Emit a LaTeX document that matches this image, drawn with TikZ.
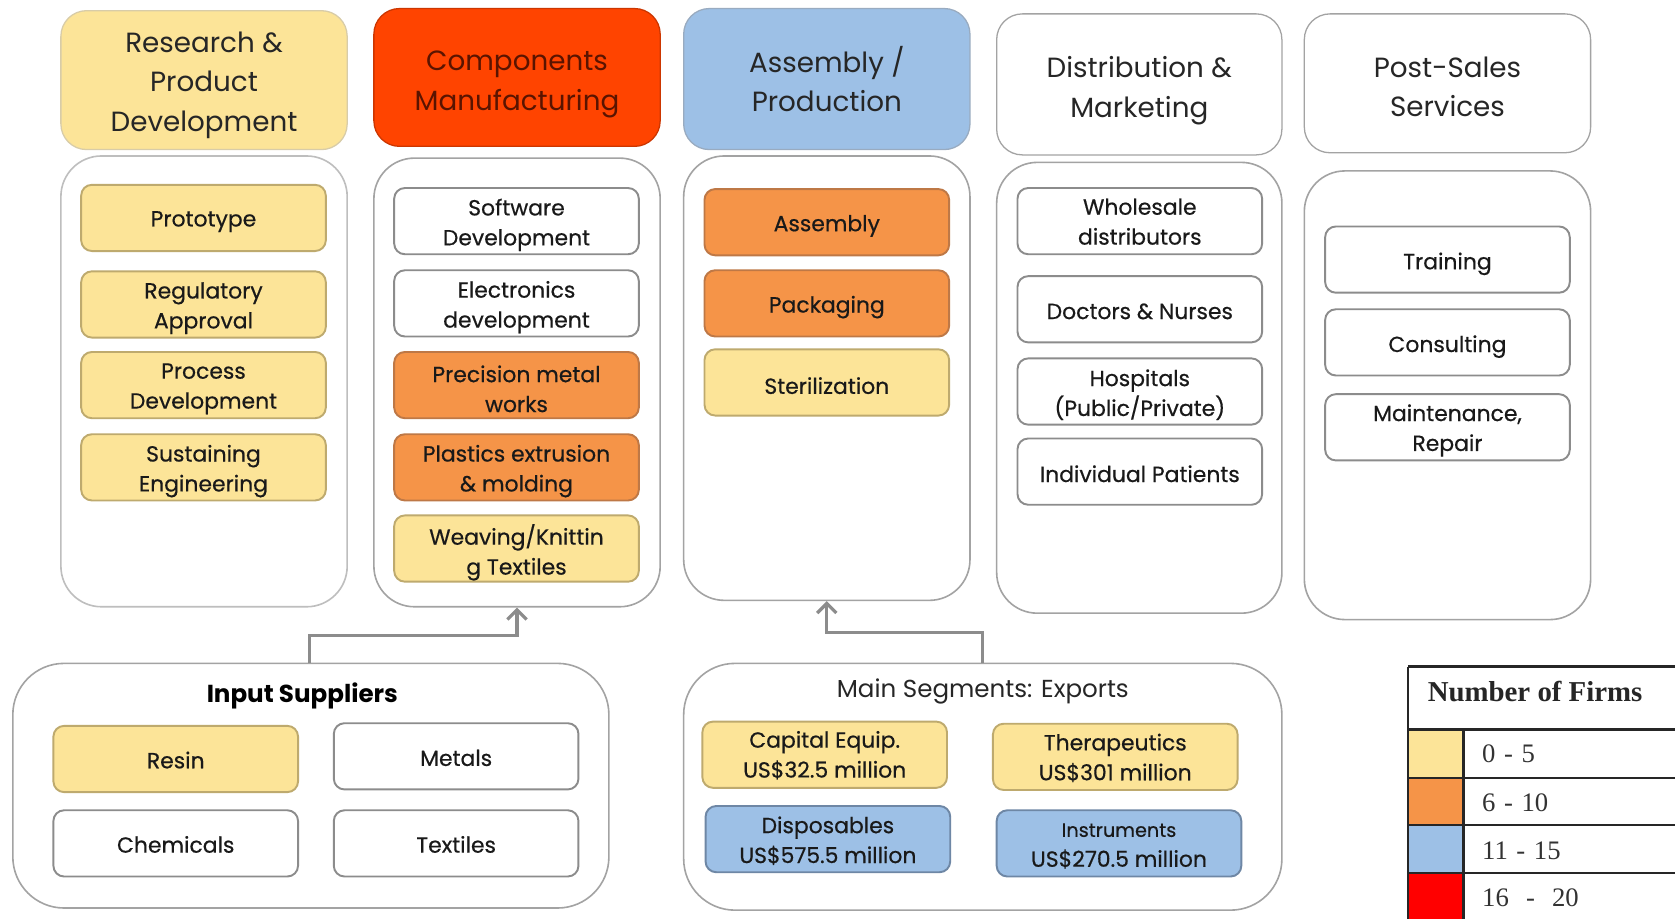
\documentclass[tikz,border=0pt]{standalone}
\usepackage{fontspec}
\setmainfont{Poppins}
\newfontfamily\itemfont{Poppins}[FakeBold=0.5]
\newfontfamily\legfont{Liberation Serif}
\usetikzlibrary{arrows.meta,calc}
\definecolor{cyel}{RGB}{252,228,152}
\definecolor{cyelb}{RGB}{190,170,110}
\definecolor{corg}{RGB}{245,148,72}
\definecolor{corgb}{RGB}{190,120,70}
\definecolor{cred}{RGB}{255,68,0}
\definecolor{cblue}{RGB}{157,192,230}
\definecolor{cblueb}{RGB}{110,135,165}
\definecolor{cgrayb}{RGB}{140,140,140}
\definecolor{clight}{RGB}{190,190,190}
\definecolor{ctxtred}{RGB}{90,20,0}
\tikzset{
  hdr/.style={draw=clight, line width=1.2pt, rounded corners=24pt, minimum width=268pt, minimum height=130pt},
  hdrtext/.style={align=center, font=\fontsize{26}{37}\selectfont, text=black!85, inner sep=0pt},
  colbox/.style={draw=cgrayb!80, line width=1.5pt, rounded corners=38pt, fill=white, minimum width=268pt},
  item/.style={draw=cgrayb, line width=1.8pt, rounded corners=10pt, fill=white, minimum width=229pt, minimum height=62pt},
  itext/.style={align=center, font=\itemfont\fontsize{20.5}{28}\selectfont, text=black!90, inner sep=0pt},
  yel/.style={fill=cyel, draw=cyelb},
  org/.style={fill=corg, draw=corgb},
  blu/.style={fill=cblue, draw=cblueb},
  bigbox/.style={draw=cgrayb!80, line width=1.5pt, rounded corners=48pt, fill=white},
  conn/.style={draw=cgrayb, line width=3pt, -{Straight Barb[length=9pt,width=18pt,line width=3pt]}},
  legline/.style={line width=2.2pt, draw=black!85},
  leglab/.style={anchor=west, font=\legfont\fontsize{25}{28}\selectfont, text=black!80},
}
% box with its text: style, name, centre, text shift, text
\newcommand\ibox[5]{\node[item,#1] (#2) at (#3) {};
  \node[itext] (#2t) at ($(#2)+(0,#4)$) {#5};}
\newcommand\lgap{\hspace{8pt}}
\begin{document}
\begin{tikzpicture}[x=1pt,y=-1pt]
\useasboundingbox (0,0) rectangle (1568,860);
\fill[white] (0,0) rectangle (1568,860);
% headers
\node[hdr, fill=cyel, draw=cyelb!60] (h1) at (191,75) {};
\node[hdrtext] (h1t) at ($(h1)+(0,4.5)$) {Research \&\\Product\\Development};
\node[hdr, fill=cred, draw=cred!80!black, minimum height=129pt] (h2) at (484,72.5) {};
\node[hdrtext, text=ctxtred] (h2t) at ($(h2)+(0,6.5)$) {Components\\Manufacturing};
\node[hdr, fill=cblue, draw=cblueb!70, minimum height=132pt] (h3) at (774,74) {};
\node[hdrtext] (h3t) at ($(h3)+(0,0)$) {Assembly /\\Production};
\node[hdr, fill=white, draw=cgrayb!80, minimum width=267pt, minimum height=132pt] (h4) at (1066.5,79) {};
\node[hdrtext] (h4t) at ($(h4)+(0,6)$) {Distribution \&\\Marketing};
\node[hdr, fill=white, draw=cgrayb!80] (h5) at (1355,78) {};
\node[hdrtext] (h5t) at ($(h5)+(0,3.5)$) {Post-Sales\\Services};
% columns
\node[colbox, minimum height=422pt, draw=clight] (c1) at (191,357) {};
\node[colbox, minimum height=420pt] (c2) at (484,358) {};
\node[colbox, minimum height=416pt] (c3) at (774,354) {};
\node[colbox, minimum width=267pt, minimum height=422pt] (c4) at (1066.5,363) {};
\node[colbox, minimum height=420pt] (c5) at (1355,370) {};
% column 1
\ibox{yel}{p1}{190.5,204}{3.5}{Prototype}
\ibox{yel}{p2}{190.5,285}{3.5}{Regulatory\\Approval}
\ibox{yel}{p3}{190.5,360.5}{3.5}{Process\\Development}
\ibox{yel}{p4}{190.5,437.5}{3.5}{Sustaining\\Engineering}
% column 2
\ibox{}{m1}{483.5,207}{3.5}{Software\\Development}
\ibox{}{m2}{483.5,284}{3.5}{Electronics\\development}
\ibox{org}{m3}{483.5,360.5}{3.5}{Precision metal\\works}
\ibox{org}{m4}{483.5,437.5}{3.5}{Plastics extrusion\\\& molding}
\ibox{yel}{m5}{483.5,513.5}{3.5}{Weaving/Knittin\\g Textiles}
% column 3
\ibox{org}{a1}{774,208}{3.5}{Assembly}
\ibox{org}{a2}{774,284}{3.5}{Packaging}
\ibox{yel}{a3}{774,358}{3}{Sterilization}
% column 4
\ibox{}{d1}{1067,207}{0.5}{Wholesale\\distributors}
\ibox{}{d2}{1067,289.5}{2}{Doctors \& Nurses}
\ibox{}{d3}{1067,366.5}{3}{Hospitals\\(Public/Private)}
\ibox{}{d4}{1067,441.5}{2}{Individual Patients}
% column 5
\ibox{}{s1}{1355,243}{4}{Training}
\ibox{}{s2}{1355,320.5}{4}{Consulting}
\ibox{}{s3}{1355,400}{3}{Maintenance,\\Repair}
% bottom left
\node[bigbox, minimum width=558pt, minimum height=229pt] (is) at (291,735.5) {};
\node[font=\fontsize{23}{26}\selectfont\bfseries] (ist) at (283,651) {Input Suppliers};
\ibox{yel}{i1}{164.5,710.5}{1}{Resin}
\ibox{}{i2}{427,708}{1.5}{Metals}
\ibox{}{i3}{164.5,789.5}{1}{Chemicals}
\ibox{}{i4}{427,789.5}{1}{Textiles}
% bottom middle
\node[bigbox, minimum width=560pt, minimum height=231pt] (ms) at (920,736.5) {};
\node[font=\fontsize{23}{26}\selectfont, text=black!85] (mst) at (920,647) {Main Segments: Exports};
\ibox{yel}{e1}{772,706.5}{0.5}{Capital Equip.\\US\$32.5 million}
\ibox{yel}{e2}{1044,708.5}{1}{Therapeutics\\US\$301 million}
\ibox{blu}{e3}{775,785.5}{1.5}{Disposables\\US\$575.5 million}
\ibox{blu}{e4}{1047.5,789.5}{2.5}{\fontsize{18}{26}\selectfont Instruments\\US\$270.5 million}
% connectors
\coordinate (isTop) at (290,621);
\coordinate (msTop) at (920,621);
\draw[conn] (isTop) -- ++(0,-26) -| (c2.south);
\draw[conn] (msTop) -- ++(0,-29) -| (c3.south);
% legend
\node[anchor=west, font=\legfont\bfseries\fontsize{27}{30}\selectfont, text=black!85] (lt) at (1333,647) {Number of Firms};
\node[draw=none, fill=cyel, minimum width=52pt, minimum height=45pt, anchor=north west, inner sep=0pt] (l1) at (1318,683) {};
\node[draw=none, fill=corg, minimum width=52pt, minimum height=44pt, anchor=north west, inner sep=0pt] (l2) at (1318,728) {};
\node[draw=none, fill=cblue, minimum width=52pt, minimum height=45pt, anchor=north west, inner sep=0pt] (l3) at (1318,772) {};
\node[draw=none, fill=red, minimum width=52pt, minimum height=43pt, anchor=north west, inner sep=0pt] (l4) at (1318,817) {};
\node[leglab] (t1) at (1384,706) {0\lgap-\lgap5};
\node[leglab] (t2) at (1384,751) {6\lgap-\lgap10};
\node[leglab] (t3) at (1384,796) {11\lgap-\lgap15};
\node[leglab] (t4) at (1384,840) {16\lgap\lgap-\lgap\lgap20};
\draw[legline] (1318,624) -- (1568,624);
\draw[legline] (1318,683) -- (1568,683);
\draw[legline] (1318,728) -- (1568,728);
\draw[legline] (1318,772) -- (1568,772);
\draw[legline] (1318,817) -- (1568,817);
\draw[legline] (1318,624) -- (1318,860);
\draw[legline] (1370,683) -- (1370,860);
\end{tikzpicture}
\end{document}
